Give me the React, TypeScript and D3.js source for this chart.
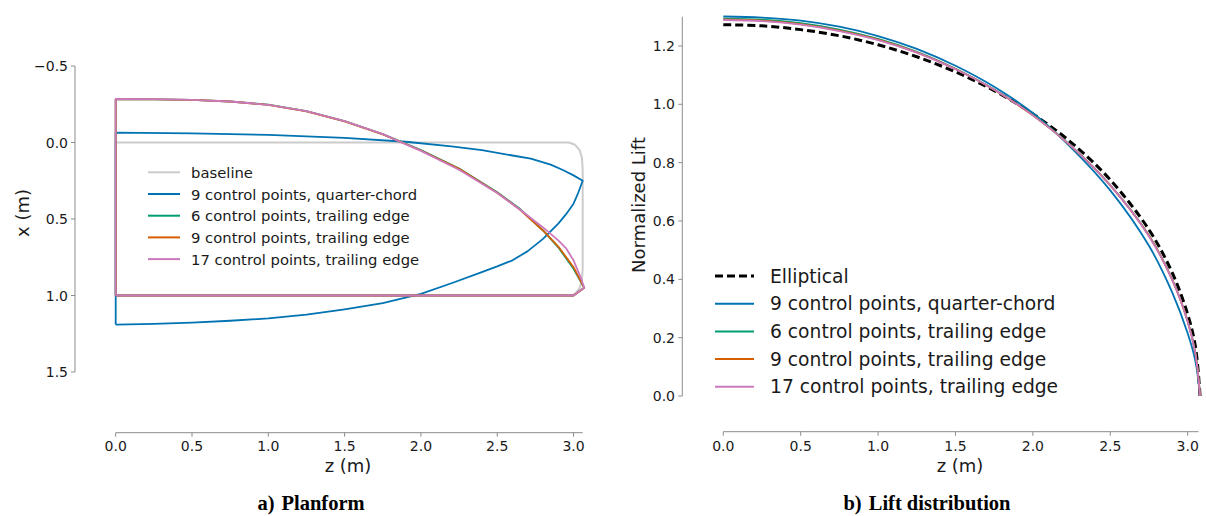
import React from "react";
import * as d3 from "d3";

// ---------- Planform data (z along span, x chordwise, metres) ----------
const baselineOutline: [number, number][] = [
  [0, 0], [2.97, 0], [3.01, 0.015], [3.04, 0.05], [3.055, 0.1], [3.06, 0.18],
  [3.06, 0.5], [3.06, 0.82], [3.055, 0.9], [3.04, 0.95], [3.015, 0.985], [2.99, 1.0],
  [0, 1.0], [0, 0],
];

const qcLeading: [number, number][] = [
  [0, -0.065], [0.5, -0.06], [1.0, -0.05], [1.5, -0.03], [1.9, -0.005], [2.2, 0.025],
  [2.4, 0.05], [2.6, 0.085], [2.72, 0.105], [2.85, 0.145], [2.93, 0.18], [3.0, 0.215], [3.06, 0.25],
];
const qcTrailing: [number, number][] = [
  [3.06, 0.25], [3.03, 0.33], [3.0, 0.4], [2.95, 0.47], [2.9, 0.53], [2.8, 0.63], [2.7, 0.71],
  [2.6, 0.77], [2.5, 0.81], [2.39, 0.85], [2.2, 0.92], [2.0, 0.99], [1.75, 1.05], [1.5, 1.09],
  [1.25, 1.125], [1.0, 1.15], [0.75, 1.165], [0.5, 1.177], [0.25, 1.185], [0, 1.19],
];

const te6Leading: [number, number][] = [
  [0, -0.283], [0.25, -0.282], [0.5, -0.278], [0.75, -0.268], [1.0, -0.247], [1.25, -0.205],
  [1.5, -0.14], [1.75, -0.055], [2.0, 0.05], [2.25, 0.17], [2.5, 0.325], [2.65, 0.435],
  [2.8, 0.575], [2.9, 0.685], [3.0, 0.825], [3.07, 0.95],
];
const te9Leading: [number, number][] = [
  [0, -0.283], [0.25, -0.282], [0.5, -0.278], [0.75, -0.268], [1.0, -0.246], [1.25, -0.204],
  [1.5, -0.138], [1.75, -0.053], [2.0, 0.052], [2.25, 0.172], [2.5, 0.328], [2.65, 0.44],
  [2.8, 0.575], [2.9, 0.68], [3.0, 0.815], [3.07, 0.95],
];
const te17Leading: [number, number][] = [
  [0, -0.285], [0.25, -0.284], [0.5, -0.279], [0.75, -0.268], [1.0, -0.246], [1.25, -0.205],
  [1.5, -0.14], [1.75, -0.055], [2.0, 0.055], [2.25, 0.178], [2.5, 0.33], [2.65, 0.44],
  [2.8, 0.555], [2.9, 0.64], [2.95, 0.69], [3.0, 0.77], [3.05, 0.89], [3.07, 0.95],
];
// Shared rear of the trailing-edge-designed planforms: tip corner, straight trailing edge, root
const teRear: [number, number][] = [[3.07, 0.95], [3.0, 1.0], [0, 1.0]];

// ---------- Lift distribution data ----------
const spanZ = [0, 0.25, 0.5, 0.75, 1.0, 1.25, 1.5, 1.75, 2.0, 2.25, 2.5, 2.75, 2.9, 3.0, 3.05, 3.08];
const liftElliptical = [1.273, 1.269, 1.256, 1.235, 1.204, 1.163, 1.111, 1.047, 0.967, 0.868, 0.741, 0.57, 0.423, 0.28, 0.17, 0];
const liftQc9 = [1.301, 1.297, 1.287, 1.266, 1.234, 1.19, 1.132, 1.06, 0.97, 0.85, 0.705, 0.515, 0.355, 0.215, 0.12, 0];
const liftTe6 = [1.294, 1.29, 1.278, 1.256, 1.224, 1.18, 1.122, 1.051, 0.963, 0.856, 0.723, 0.55, 0.4, 0.257, 0.148, 0];
const liftTe9 = [1.291, 1.287, 1.275, 1.253, 1.222, 1.178, 1.121, 1.05, 0.962, 0.855, 0.722, 0.549, 0.399, 0.256, 0.146, 0];
const liftTe17 = [1.289, 1.285, 1.273, 1.251, 1.22, 1.177, 1.12, 1.05, 0.962, 0.855, 0.722, 0.548, 0.398, 0.255, 0.145, 0];

const planformTicksX = [-0.5, 0.0, 0.5, 1.0, 1.5];
const planformTicksZ = [0, 0.5, 1.0, 1.5, 2.0, 2.5, 3.0];
const liftTicksY = [0, 0.2, 0.4, 0.6, 0.8, 1.0, 1.2];
const liftTicksZ = [0, 0.5, 1.0, 1.5, 2.0, 2.5, 3.0];

const planformLabels = [
  "baseline",
  "9 control points, quarter-chord",
  "6 control points, trailing edge",
  "9 control points, trailing edge",
  "17 control points, trailing edge",
];
const liftLabels = [
  "Elliptical",
  "9 control points, quarter-chord",
  "6 control points, trailing edge",
  "9 control points, trailing edge",
  "17 control points, trailing edge",
];

const GREY = "#cccccc";
const BLUE = "#0173b2";
const GREEN = "#029e73";
const ORANGE = "#d55e00";
const PINK = "#cc78bc";
const SPINE = "#8c8c8c";
const TEXT = "#1a1a1a";
const FONT = "DejaVu Sans, sans-serif";
const SERIF = "Liberation Serif, Times New Roman, serif";

const fmtTick = (v: number) => (v < 0 ? "\u2212" + Math.abs(v).toFixed(1) : v.toFixed(1));

export default function App() {
  // Planform scales
  const pz = d3.scaleLinear().domain([0, 3.06]).range([115.7, 582.7]);
  const px = d3.scaleLinear().domain([-0.5, 1.5]).range([66, 372]);
  const pLine = d3
    .line<[number, number]>()
    .x((d) => pz(d[0]))
    .y((d) => px(d[1]));

  const qcShape: [number, number][] = [[0, 1.19], ...qcLeading, ...qcTrailing.slice(1)];
  const teShape = (lead: [number, number][]): [number, number][] => [
    [0, 1.0],
    ...lead,
    ...teRear.slice(1),
  ];

  const planformSeries = [
    { pts: baselineOutline, color: GREY, w: 2 },
    { pts: qcShape, color: BLUE, w: 1.8 },
    { pts: teShape(te6Leading), color: GREEN, w: 1.8 },
    { pts: teShape(te9Leading), color: ORANGE, w: 1.8 },
    { pts: teShape(te17Leading), color: PINK, w: 1.8 },
  ];

  // Lift scales
  const lz = d3.scaleLinear().domain([0, 3.07]).range([723.3, 1198.5]);
  const ly = d3.scaleLinear().domain([0, 1.3]).range([396, 16.8]);
  const lLine = d3
    .line<number>()
    .x((_, i) => lz(spanZ[i]))
    .y((d) => ly(d))
    .curve(d3.curveCatmullRom.alpha(0.5));

  const liftSeries = [
    { vals: liftQc9, color: BLUE },
    { vals: liftTe6, color: GREEN },
    { vals: liftTe9, color: ORANGE },
    { vals: liftTe17, color: PINK },
  ];

  const planformLegendColors = [GREY, BLUE, GREEN, ORANGE, PINK];
  const liftLegendColors = ["#000", BLUE, GREEN, ORANGE, PINK];

  return (
    <svg
      width={1206}
      height={516}
      style={{ position: "absolute", left: 0, top: 0, background: "#fff" }}
      fontFamily={FONT}
    >
      {/* ---------------- Planform panel ---------------- */}
      <g>
        {planformSeries.map((s, i) => (
          <path
            key={i}
            d={pLine(s.pts) || ""}
            fill="none"
            stroke={s.color}
            strokeWidth={s.w}
            strokeLinejoin="round"
          />
        ))}

        {/* y spine & ticks */}
        <line x1={75} x2={75} y1={px(-0.5)} y2={px(1.5)} stroke={SPINE} strokeWidth={1} />
        {planformTicksX.map((t) => (
          <g key={t}>
            <line x1={71} x2={75} y1={px(t)} y2={px(t)} stroke={SPINE} />
            <text x={68} y={px(t)} textAnchor="end" dominantBaseline="central" fontSize={14} fill={TEXT}>
              {fmtTick(t)}
            </text>
          </g>
        ))}
        {/* x spine & ticks */}
        <line x1={pz(0)} x2={pz(3.06)} y1={432.7} y2={432.7} stroke={SPINE} strokeWidth={1} />
        {planformTicksZ.map((t) => (
          <g key={t}>
            <line x1={pz(t)} x2={pz(t)} y1={432.7} y2={436.7} stroke={SPINE} />
            <text x={pz(t)} y={446} textAnchor="middle" dominantBaseline="central" fontSize={14} fill={TEXT}>
              {t.toFixed(1)}
            </text>
          </g>
        ))}
        <text x={348} y={465} textAnchor="middle" dominantBaseline="central" fontSize={18} fill={TEXT}>
          z (m)
        </text>
        <text
          transform={`translate(22,213) rotate(-90)`}
          textAnchor="middle"
          dominantBaseline="central"
          fontSize={18}
          fill={TEXT}
        >
          x (m)
        </text>

        {/* legend */}
        {planformLabels.map((lab, i) => {
          const y = 172.3 + i * 21.7;
          return (
            <g key={lab}>
              <line x1={148} x2={180} y1={y} y2={y} stroke={planformLegendColors[i]} strokeWidth={2} />
              <text x={191} y={y} dominantBaseline="central" fontSize={14.8} fill={TEXT}>
                {lab}
              </text>
            </g>
          );
        })}

        <text x={311} y={510} textAnchor="middle" fontFamily={SERIF} fontWeight="bold" fontSize={20.5} fill="#000">
          <tspan>a)</tspan>
          <tspan dx={7}>Planform</tspan>
        </text>
      </g>

      {/* ---------------- Lift distribution panel ---------------- */}
      <g>
        <path
          d={lLine(liftElliptical) || ""}
          fill="none"
          stroke="#000"
          strokeWidth={3}
          strokeDasharray="8,4"
        />
        {liftSeries.map((s, i) => (
          <path key={i} d={lLine(s.vals) || ""} fill="none" stroke={s.color} strokeWidth={1.8} />
        ))}

        <line x1={682.3} x2={682.3} y1={ly(1.3)} y2={ly(0)} stroke={SPINE} strokeWidth={1} />
        {liftTicksY.map((t) => (
          <g key={t}>
            <line x1={678.3} x2={682.3} y1={ly(t)} y2={ly(t)} stroke={SPINE} />
            <text x={675} y={ly(t)} textAnchor="end" dominantBaseline="central" fontSize={14} fill={TEXT}>
              {t.toFixed(1)}
            </text>
          </g>
        ))}
        <line x1={lz(0)} x2={lz(3.07)} y1={431.7} y2={431.7} stroke={SPINE} strokeWidth={1} />
        {liftTicksZ.map((t) => (
          <g key={t}>
            <line x1={lz(t)} x2={lz(t)} y1={431.7} y2={435.7} stroke={SPINE} />
            <text x={lz(t)} y={446} textAnchor="middle" dominantBaseline="central" fontSize={14} fill={TEXT}>
              {t.toFixed(1)}
            </text>
          </g>
        ))}
        <text x={960} y={465} textAnchor="middle" dominantBaseline="central" fontSize={18} fill={TEXT}>
          z (m)
        </text>
        <text
          transform={`translate(638.5,205) rotate(-90)`}
          textAnchor="middle"
          dominantBaseline="central"
          fontSize={18}
          fill={TEXT}
        >
          Normalized Lift
        </text>

        {liftLabels.map((lab, i) => {
          const y = 276 + i * 27.7;
          return (
            <g key={lab}>
              <line
                x1={715}
                x2={754}
                y1={y}
                y2={y}
                stroke={liftLegendColors[i]}
                strokeWidth={i === 0 ? 3 : 2}
                strokeDasharray={i === 0 ? "8,4" : undefined}
              />
              <text x={770} y={y} dominantBaseline="central" fontSize={18.7} fill={TEXT}>
                {lab}
              </text>
            </g>
          );
        })}

        <text x={927} y={510} textAnchor="middle" fontFamily={SERIF} fontWeight="bold" fontSize={20.5} fill="#000">
          <tspan>b)</tspan>
          <tspan dx={7}>Lift distribution</tspan>
        </text>
      </g>
    </svg>
  );
}
